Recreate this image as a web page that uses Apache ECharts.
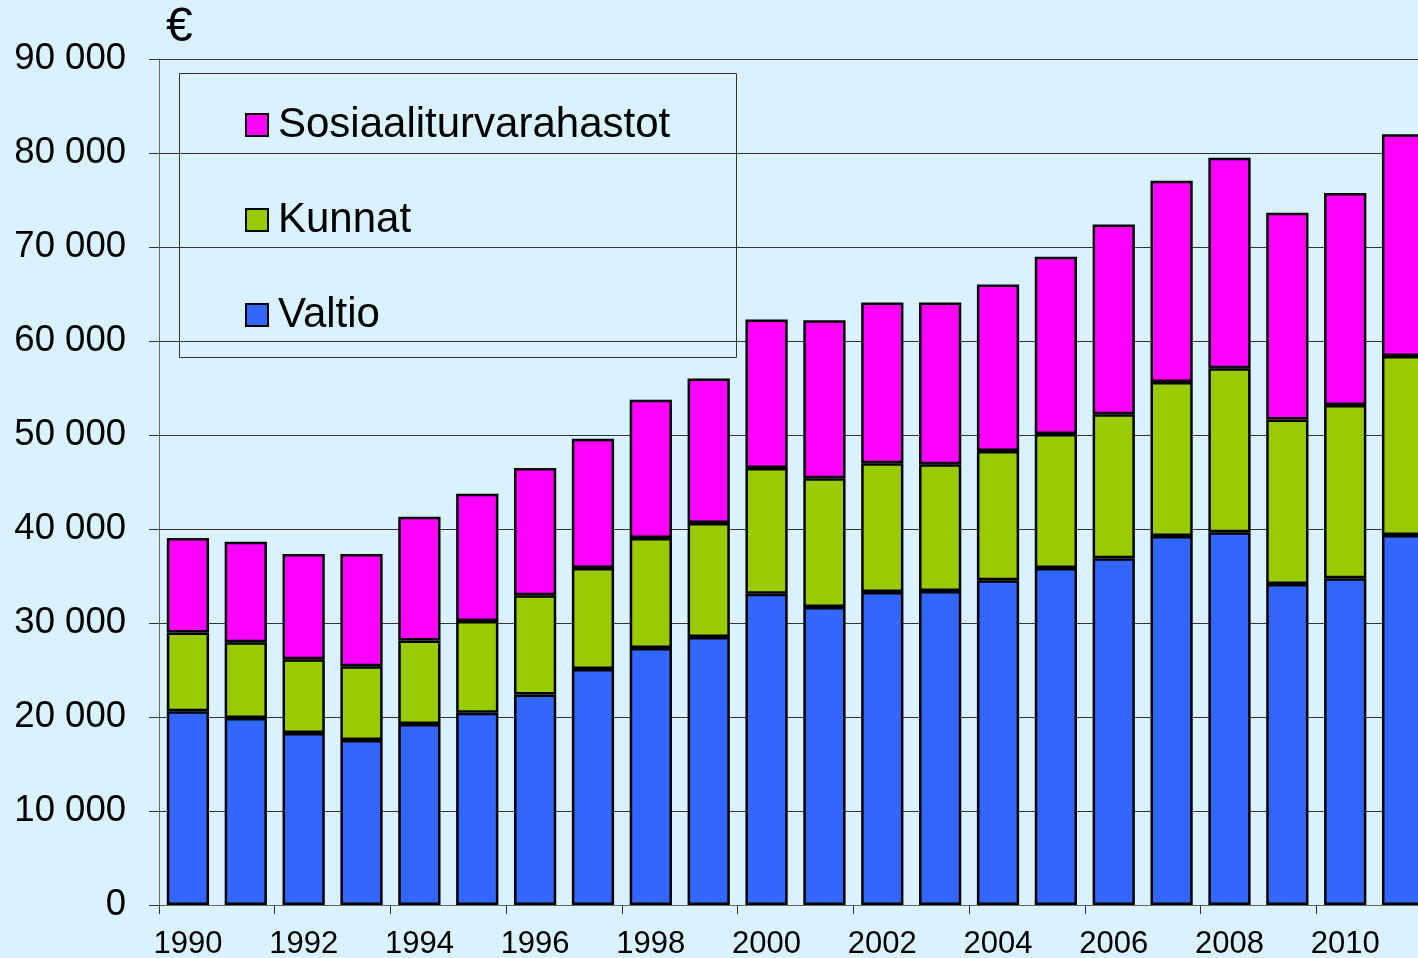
<!DOCTYPE html>
<html>
<head>
<meta charset="utf-8">
<script src="https://cdn.jsdelivr.net/npm/echarts@6/dist/echarts.min.js"></script>
<style>
  html, body { margin: 0; padding: 0; background: #d9f2fe; }
  #myChart { width: 1418px; height: 958px; }
</style>
</head>
<body>
<div id="myChart"></div>
<script>
// vuodet
const years = ['1990', '1991', '1992', '1993', '1994', '1995', '1996', '1997', '1998', '1999', '2000',
  '2001', '2002', '2003', '2004', '2005', '2006', '2007', '2008', '2009', '2010', '2011']
// Valtio
const valtio = [20600, 19900, 18300, 17550, 19250, 20450, 22400, 25100, 27350, 28500, 33100,
  31700, 33300, 33400, 34550, 35850, 36900, 39250, 39650, 34150, 34750, 39350]
// Kunnat (osuus, pinottu)
const kunnatTop = [29000, 27950, 26150, 25400, 28150, 30200, 32950, 35850, 39050, 40650, 46500,
  45400, 47000, 46900, 48300, 50100, 52200, 55650, 57100, 51650, 53200, 58400]
// Sosiaaliturvarahastot (yläreuna)
const sosTop = [39050, 38650, 37350, 37350, 41300, 43750, 46500, 49600, 53750, 56000, 62300,
  62200, 64100, 64100, 66000, 68950, 72400, 77050, 79500, 73650, 75750, 82000]
const kunnat = kunnatTop.map((v, i) => v - valtio[i])
const sos = sosTop.map((v, i) => v - kunnatTop[i])

const myChart = echarts.init(document.getElementById('myChart'))
const font = '"Liberation Sans", Arial, sans-serif'
const option = {
  backgroundColor: '#d9f2fe',
  animation: false,
  textStyle: { fontFamily: font },
  grid: {
    left: 159,
    top: 59,
    height: 846,
    width: 1273,
    outerBoundsMode: 'none',
    containLabel: false
  },
  graphic: [
    {
      type: 'text',
      left: 166,
      top: 4,
      style: { text: '€', fontSize: 48, fill: '#000', fontFamily: font }
    },
    {
      // legendin kehys
      type: 'rect',
      shape: { x: 179.5, y: 73.5, width: 557, height: 284 },
      style: { fill: 'none', stroke: '#333', lineWidth: 1 },
      z: 10
    }
  ],
  legend: {
    orient: 'vertical',
    left: 240,
    top: 99,
    icon: 'rect',
    itemWidth: 22,
    itemHeight: 22,
    itemGap: 53,
    data: ['Sosiaaliturvarahastot', 'Kunnat', 'Valtio'],
    textStyle: {
      fontSize: 42,
      lineHeight: 42,
      color: '#000',
      padding: [0, 0, 0, 5]
    },
    itemStyle: { borderColor: '#000', borderWidth: 2 }
  },
  xAxis: {
    type: 'category',
    data: years,
    axisLine: { lineStyle: { color: '#666', width: 1 } },
    axisTick: { show: true, length: 9, lineStyle: { color: '#333' } },
    axisLabel: { interval: 1, fontSize: 31, color: '#000', margin: 24 }
  },
  yAxis: {
    type: 'value',
    min: 0,
    max: 90000,
    interval: 10000,
    axisLine: { show: true, lineStyle: { color: '#666', width: 1 } },
    axisTick: { show: true, length: 10, lineStyle: { color: '#333' } },
    axisLabel: {
      fontSize: 36.5,
      color: '#000',
      margin: 33,
      padding: [6, 0, 0, 0],
      formatter: function (v) {
        return v === 0 ? '0' : (v / 1000) + ' 000'
      }
    },
    splitLine: { lineStyle: { color: '#333', width: 1 } }
  },
  series: [
    {
      name: 'Valtio',
      type: 'bar',
      stack: 'yht',
      barCategoryGap: '27%',
      itemStyle: { color: '#3366ff', borderColor: '#000', borderWidth: 2.5 },
      data: valtio
    },
    {
      name: 'Kunnat',
      type: 'bar',
      stack: 'yht',
      itemStyle: { color: '#99cc00', borderColor: '#000', borderWidth: 2.5 },
      data: kunnat
    },
    {
      name: 'Sosiaaliturvarahastot',
      type: 'bar',
      stack: 'yht',
      itemStyle: { color: '#ff00ff', borderColor: '#000', borderWidth: 2.5 },
      data: sos
    }
  ]
}
myChart.setOption(option)
</script>
</body>
</html>
